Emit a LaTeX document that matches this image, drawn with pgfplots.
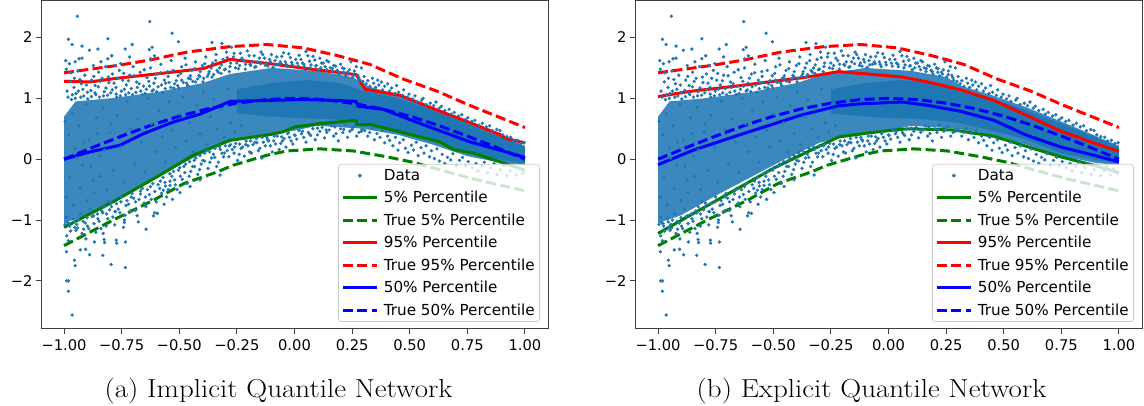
\documentclass[border=0pt]{standalone}
\usepackage{pgfplots}
\pgfplotsset{compat=1.18}
\usepackage{pgfplotstable}
\usepackage{fontspec}
\setmainfont{DejaVu Sans}
\newfontfamily\capfont{Latin Modern Roman}
\definecolor{tb}{HTML}{1F77B4}
\definecolor{pgreen}{HTML}{008000}
\pgfplotstableread{
x y
-1 .7
-.95 .95
-.8 1
-.6 1.1
-.4 1.25
-.28 1.4
-.1 1.5
.1 1.45
.25 1.35
.32 1.2
.45 1.05
.6 .85
.75 .62
.9 .38
1 .22
1 -.1
.9 -.06
.75 .05
.6 .24
.45 .4
.3 .5
.1 .55
0 .47
-.15 .4
-.3 .27
-.45 0
-.6 -.3
-.75 -.6
-.9 -.92
-1 -1.05
}\bandouter
\pgfplotstableread{
x y
-.25 1.15
-.1 1.25
.05 1.3
.2 1.25
.3 1.12
.45 1
.6 .8
.75 .58
.9 .36
1 .2
1 -.08
.9 -.01
.75 .1
.6 .32
.45 .47
.3 .6
.15 .66
0 .68
-.1 .7
-.25 .75
}\bandinner
\pgfplotstableread{
x y
-.942 2.35
-.628 2.26
-.531 2.07
-.981 1.97
-.81 1.98
-.504 1.93
-.704 1.885
-.735 1.81
-.922 1.86
-.965 1.885
-.89 1.79
-.853 1.81
-.63 1.8
-.618 1.84
-.715 1.68
-.793 1.7
-.81 1.65
-.84 1.6
-.993 1.62
-.952 1.6
-.935 1.65
-.922 1.66
-.977 1.57
-.873 1.54
-.754 1.57
-.779 1.54
-.624 1.65
-.608 1.7
-.358 1.92
-.315 1.9
-.273 1.84
-.965 -2.56
-.981 -2.17
-.981 -2
-.988 -2
-.952 -1.75
-.955 -1.66
-.99 -1.52
-.93 -1.49
-.906 -1.48
-.889 -1.57
-.832 -1.58
-.796 -1.73
-.734 -1.78
-.734 -1.36
-.773 -1.33
-.772 -1.38
-.826 -1.32
-.824 -1.37
-.868 -1.36
-.905 -1.31
-.948 -1.17
-.988 -1.26
-.981 -1.34
-.83 -1.22
-.644 -1.15
-.678 -1.03
-.738 -1.04
-.738 -1
-.779 -.86
-.612 -.93
-.595 -.89
-.529 -.66
-.566 -.74
-.497 -.55
-.453 -.45
-.41 -.34
-.323 -.26
-.569 -.51
-.54 -.43
-.99 1.48
-.97 1.42
-.955 1.33
-.94 1.45
-.925 1.24
-.91 1.38
-.88 1.3
-.865 1.21
-.85 1.43
-.835 1.33
-.82 1.52
-.805 1.26
-.79 1.4
-.775 1.18
-.76 1.46
-.745 1.3
-.73 1.22
-.715 1.38
-.7 1.52
-.685 1.27
-.67 1.43
-.655 1.2
-.64 1.34
-.625 1.5
-.61 1.25
-.595 1.4
-.58 1.56
-.565 1.3
-.55 1.44
-.535 1.62
-.52 1.24
-.505 1.37
-.49 1.52
-.475 1.66
-.46 1.33
-.445 1.46
-.43 1.6
-.415 1.38
-.4 1.54
-.385 1.68
-.37 1.44
-.355 1.58
-.34 1.72
-.325 1.5
-.31 1.64
-.295 1.76
-.28 1.52
-.265 1.68
-.25 1.58
-.235 1.74
-.22 1.62
-.205 1.78
-.19 1.54
-.175 1.7
-.16 1.6
-.145 1.76
-.13 1.66
-.115 1.53
-.1 1.72
-.085 1.62
-.07 1.56
-.055 1.69
-.04 1.6
-.025 1.73
-.01 1.55
.005 1.64
.02 1.71
.035 1.58
.05 1.77
.065 1.61
.08 1.69
.095 1.54
.11 1.66
.125 1.58
.14 1.62
.155 1.5
.17 1.54
.185 1.46
.2 1.56
.215 1.49
.23 1.43
.245 1.6
.26 1.45
.275 1.38
.29 1.5
.302 1.36
.311 1.24
.318 1.29
.327 1.2
.338 1.33
.344 1.25
.352 1.18
.361 1.3
.366 1.22
.377 1.27
.383 1.14
.391 1.2
.404 1.24
.412 1.12
.421 1.17
.436 1.08
.443 1.21
.452 1.1
.468 1.05
.474 1.14
.489 1.02
.497 1.07
.512 .99
.523 1.04
.531 .95
.552 .97
.558 1
.571 .9
.589 .92
.603 .88
.614 .94
.628 .84
.637 .87
.652 .8
.671 .82
.68 .74
.693 .77
.712 .71
.726 .73
.741 .65
.752 .68
.769 .62
.783 .64
.801 .56
.815 .59
.832 .53
.847 .55
.859 .47
.878 .49
.892 .47
.904 .4
.921 .37
.938 .36
.951 .3
.967 .31
.983 .26
.996 .27
-.99 -.95
-.975 -1.1
-.96 -.98
-.945 -1.07
-.93 -.9
-.915 -1.15
-.9 -.96
-.885 -.82
-.87 -1.06
-.855 -.9
-.84 -1.14
-.825 -.78
-.81 -.98
-.795 -.72
-.78 -1.08
-.765 -.82
-.75 -.62
-.735 -.92
-.72 -.74
-.705 -.56
-.69 -.84
-.675 -.66
-.66 -.48
-.645 -.78
-.63 -.58
-.615 -.4
-.6 -.7
-.585 -.48
-.57 -.3
-.555 -.62
-.54 -.36
-.525 -.2
-.51 -.5
-.495 -.28
-.48 -.12
-.465 -.4
-.45 -.2
-.435 -.02
-.42 -.25
-.405 -.08
-.39 .1
-.375 -.15
-.36 .02
-.345 .18
-.33 -.05
-.315 .1
-.3 .22
-.285 .04
-.27 .16
-.255 .26
-.24 .08
-.225 .2
-.21 .3
-.195 .12
-.18 .24
-.165 .34
-.15 .18
-.135 .28
-.12 .36
-.105 .22
-.09 .3
-.075 .38
-.06 .26
-.045 .34
-.03 .42
-.015 .3
0 .4
.02 .47
.04 .36
.06 .44
.08 .5
.1 .4
.12 .52
.14 .44
.16 .55
.18 .42
.2 .5
.22 .56
.24 .46
.26 .54
.28 .44
.305 .47
.318 .38
.326 .44
.339 .51
.347 .32
.358 .42
.371 .36
.382 .47
.391 .27
.404 .38
.413 .31
.427 .22
.438 .36
.449 .15
.456 .27
.472 .32
.481 .18
.493 .11
.507 .23
.516 .15
.528 .28
.537 .06
.549 .19
.562 .1
.571 .22
.586 .04
.594 .14
.607 .01
.618 .17
.629 -.03
.641 .08
.652 -.07
.664 .03
.678 -.01
.687 .09
.703 -.1
.716 -.02
.729 .03
.742 -.11
.754 -.04
.771 -.14
.788 -.07
.796 -.19
.813 -.11
.824 -.05
.838 -.22
.852 -.14
.866 -.07
.879 -.25
.893 -.17
.907 -.1
.921 -.27
.936 -.19
.948 -.12
.962 -.26
.977 -.16
.991 -.23
-.987 1.12
-.973 1.27
-.968 .98
-.957 1.18
-.948 1.08
-.931 1.31
-.927 1.02
-.918 1.15
-.903 1.22
-.897 .99
-.884 1.13
-.871 1.36
-.862 1.06
-.851 1.19
-.843 1.28
-.829 1.04
-.818 1.17
-.808 1.35
-.797 1.09
-.783 1.25
-.771 1.02
-.767 1.33
-.752 1.12
-.741 1.41
-.733 1.06
-.721 1.29
-.708 1.16
-.696 1.37
-.688 1.1
-.674 1.24
-.661 1.06
-.652 1.47
-.643 1.15
-.632 1.28
-.618 1.12
-.604 1.33
-.592 1.19
-.581 1.42
-.571 1.1
-.559 1.25
-.548 1.36
-.537 1.18
-.526 1.46
-.513 1.29
-.502 1.17
-.494 1.41
-.482 1.26
-.471 1.55
-.463 1.21
-.452 1.37
-.441 1.28
-.433 1.49
-.42 1.32
-.409 1.44
-.397 1.27
-.389 1.57
-.378 1.36
-.362 1.5
-.351 1.39
-.342 1.62
-.331 1.43
-.318 1.55
-.304 1.47
-.292 1.67
-.277 1.58
-.262 1.74
-.243 1.49
-.228 1.66
-.212 1.56
-.197 1.7
-.183 1.6
-.168 1.52
-.152 1.66
-.138 1.72
-.122 1.58
-.108 1.64
-.093 1.51
-.077 1.68
-.062 1.6
-.047 1.75
-.032 1.52
-.018 1.67
.012 1.58
.028 1.64
.043 1.52
.058 1.7
.072 1.55
.088 1.63
.103 1.47
.118 1.58
.133 1.52
.148 1.6
.163 1.44
.178 1.53
.193 1.4
.208 1.5
.222 1.37
.238 1.47
.253 1.35
.268 1.52
.283 1.3
-.985 -1.04
-.972 -1.18
-.956 -1.03
-.941 -1.13
-.922 -1.22
-.908 -1.05
-.893 -1.14
-.878 -.94
-.862 -1.2
-.848 -1.02
-.832 -.88
-.817 -1.1
-.802 -.83
-.788 -.95
-.772 -.73
-.758 -.88
-.742 -1.12
-.727 -.68
-.712 -.85
-.698 -.64
-.683 -.93
-.668 -.57
-.653 -.72
-.638 -.5
-.622 -.66
-.607 -.88
-.592 -.42
-.577 -.56
-.562 -.38
-.548 -.5
-.532 -.28
-.517 -.42
-.503 -.18
-.487 -.33
-.472 -.08
-.457 -.28
-.442 -.12
-.428 .02
-.412 -.17
-.398 -.02
-.382 .14
-.367 -.05
-.352 .08
-.338 -.12
-.322 .16
-.308 .04
-.292 .14
-.278 .24
-.262 .1
-.247 -.02
-.232 .18
-.218 .05
-.202 .22
-.187 .1
-.172 .28
-.157 .14
-.142 .02
-.127 .22
-.112 .3
-.097 .12
-.082 .25
-.067 .16
-.052 .3
-.037 .2
-.022 .36
-.007 .25
.01 .33
.03 .42
.05 .28
.07 .39
.09 .32
.11 .46
.13 .35
.15 .48
.17 .38
.19 .3
.21 .44
.23 .36
.25 .49
.27 .38
.29 .46
-.983 1.02
-.964 1.06
-.951 1
-.938 1.12
-.914 1.04
-.899 1.1
-.881 1.03
-.866 1.09
-.846 1.02
-.826 1.11
-.811 1.05
-.791 1.14
-.774 1.07
-.756 1.04
-.738 1.15
-.719 1.09
-.703 1.06
-.682 1.18
-.667 1.12
-.648 1.08
-.629 1.2
-.613 1.14
-.598 1.11
-.577 1.22
-.561 1.16
-.544 1.26
-.523 1.17
-.507 1.21
-.489 1.3
-.468 1.25
-.451 1.32
-.429 1.27
-.411 1.36
-.394 1.33
-.373 1.4
-.358 1.35
-.336 1.46
-.319 1.41
-.3 1.48
-.283 1.44
-.256 1.5
-.238 1.54
-.214 1.48
-.193 1.56
-.172 1.51
-.147 1.57
-.126 1.54
-.104 1.6
-.081 1.55
-.058 1.57
-.036 1.56
-.012 1.59
.016 1.53
.041 1.56
.067 1.5
.092 1.53
.114 1.5
.139 1.47
.164 1.49
.189 1.44
.214 1.43
.234 1.4
.259 1.39
.279 1.34
.297 1.28
-.996 -1.07
-.978 -1.06
-.953 -1.12
-.938 -1
-.917 -1.02
-.898 -1.1
-.872 -.93
-.853 -.98
-.836 -.85
-.815 -.9
-.794 -.78
-.777 -.86
-.753 -.7
-.731 -.76
-.709 -.62
-.69 -.7
-.668 -.52
-.647 -.62
-.625 -.45
-.606 -.53
-.582 -.36
-.56 -.44
-.541 -.24
-.52 -.34
-.498 -.14
-.476 -.22
-.455 -.04
-.434 -.12
-.41 .06
-.39 -.03
-.368 .12
-.346 .03
-.325 .2
-.304 .1
-.283 .22
-.26 .2
-.238 .25
-.212 .24
-.19 .3
-.163 .27
-.14 .36
-.116 .32
-.088 .38
-.056 .37
-.026 .44
.003 .39
.035 .46
.066 .41
.1 .51
.137 .48
.175 .53
.214 .49
.252 .52
.293 .49
-.995 .62
-.98 .4
-.965 .75
-.95 .18
-.935 .55
-.92 -.1
-.905 .9
-.89 .32
-.875 -.35
-.86 .68
-.845 .05
-.83 .85
-.815 -.5
-.8 .44
-.785 -.18
-.77 .72
-.755 .2
-.74 -.38
-.725 .95
-.71 .5
-.695 -.08
-.68 .66
-.665 .28
-.65 -.22
-.635 1
-.62 .58
-.605 .12
-.59 .8
-.575 .36
-.56 -.05
-.545 .94
-.53 .48
-.515 .2
-.5 .74
-.485 1.02
-.47 .3
-.455 .6
-.44 .12
-.425 .88
-.41 .42
-.395 1.1
-.38 .24
-.365 .7
-.35 .98
-.335 .5
-.32 .82
-.305 .36
-.29 1.15
-.275 .6
-.26 .45
-.245 .9
-.23 .55
-.99 -.62
-.975 -.3
-.96 -.75
-.945 .02
-.93 -.48
-.915 .28
-.9 -.68
-.885 -.12
-.87 -.55
-.855 .42
-.84 -.28
-.825 .15
-.81 -.7
-.795 .58
}\scat
\pgfplotsset{
  panel/.style={
    scale only axis,width=507pt,height=328pt,
    xmin=-1.1,xmax=1.1,ymin=-2.79,ymax=2.6,
    xtick={-1,-.75,-.5,-.25,0,.25,.5,.75,1},
    xticklabels={−1.00,−0.75,−0.50,−0.25,0.00,0.25,0.50,0.75,1.00},
    ytick={-2,-1,0,1,2},
    yticklabels={−2,−1,0,1,2},
    tick label style={font=\fontsize{14.7}{17}\selectfont},
    axis line style={black!75,line width=1pt},
    tick style={black!75,line width=1pt},
    tick align=outside,major tick length=5pt,
    xtick pos=bottom,ytick pos=left,
    x tick label style={yshift=-2pt},
    clip=true,
    legend cell align=left,
    legend style={at={(1,0)},anchor=south east,xshift=-8pt,yshift=7pt,
      font=\fontsize{15.2}{17}\selectfont,
      draw=black!20,line width=.8pt,rounded corners=3pt,
      fill=white,fill opacity=.8,draw opacity=1,text opacity=1,
      row sep=5.4pt,inner xsep=3pt,inner ysep=3pt},
    legend image code/.code={\draw[##1,line width=3pt] (0pt,0pt) -- (34pt,0pt);\path[draw=none] (0pt,0pt) -- (39pt,0pt);},
  },
  sol/.style={line width=3pt,line join=round,no marks},
  das/.style={line width=3pt,no marks,dash pattern=on 10pt off 4.4pt},
}
\newcommand{\scatterlayers}{%
  \addplot[fill=tb,draw=none,fill opacity=.88,forget plot] table {\bandouter} -- cycle;
  \addplot[fill=tb,draw=none,forget plot] table {\bandinner} -- cycle;
  \addplot[only marks,mark=*,mark size=1.5pt,color=tb,mark options={draw=none,fill=tb},
    legend image code/.code={\fill[tb] (17pt,0pt) circle (1.5pt);\path[draw=none,fill=none] (0pt,0pt) -- (39pt,0pt);}] table {\scat};
}
\newcommand{\truegreen}{%
  \addplot[das,color=pgreen] coordinates {(-1,-1.42) (-.787,-1) (-.61,-.67) (-.48,-.4) (-.336,-.21) (-.267,-.1) (-.12,.065) (-.033,.136) (.11,.17) (.255,.136) (.4,.04) (.514,-.05) (.76,-.31) (1,-.52)};
}
\newcommand{\truered}{%
  \addplot[das,color=red] coordinates {(-1,1.42) (-.77,1.54) (-.627,1.63) (-.467,1.76) (-.28,1.85) (-.12,1.885) (.037,1.83) (.184,1.705) (.327,1.557) (.47,1.32) (.617,1.12) (.76,.885) (.904,.667) (1,.52)};
}
\newcommand{\trueblue}{%
  \addplot[das,color=blue] coordinates {(-1,0) (-.875,.195) (-.75,.38) (-.625,.555) (-.5,.707) (-.375,.83) (-.25,.92) (-.125,.98) (0,1) (.125,.98) (.25,.92) (.375,.83) (.5,.707) (.625,.555) (.75,.38) (.875,.195) (1,0)};
}
\begin{document}
\begin{tikzpicture}[x=1pt,y=1pt]
\path[use as bounding box] (0,0) rectangle (1144,406);
\begin{axis}[panel,at={(41pt,77pt)},anchor=south west]
\scatterlayers
\addplot[sol,color=pgreen] coordinates {(-1,-1.12) (-.787,-.7) (-.583,-.26) (-.44,.065) (-.28,.31) (-.106,.405) (-.05,.45) (.002,.53) (.11,.585) (.267,.64) (.27,.57) (.33,.57) (.47,.437) (.63,.284) (.69,.16) (.775,.1) (.892,-.044) (1,-.18)};
\truegreen
\addplot[sol,color=red] coordinates {(-1,1.28) (-.887,1.27) (-.77,1.33) (-.627,1.39) (-.51,1.44) (-.396,1.49) (-.28,1.64) (-.106,1.57) (.037,1.497) (.267,1.39) (.306,1.15) (.458,1.05) (.617,.81) (.762,.6) (.892,.405) (.92,.34) (1,.267)};
\truered
\addplot[sol,color=blue] coordinates {(-1,0) (-.887,.12) (-.757,.23) (-.655,.42) (-.527,.61) (-.41,.74) (-.28,.95) (-.106,.967) (.037,.98) (.18,.967) (.267,.95) (.276,.87) (.385,.82) (.5,.65) (.645,.447) (.762,.284) (.892,.148) (1,.028)};
\trueblue
\legend{Data,5\% Percentile,True 5\% Percentile,95\% Percentile,True 95\% Percentile,50\% Percentile,True 50\% Percentile}
\end{axis}
\begin{axis}[panel,at={(635pt,77pt)},anchor=south west]
\scatterlayers
\addplot[sol,color=pgreen] coordinates {(-1,-1.22) (-.743,-.67) (-.5,-.15) (-.217,.365) (-.09,.43) (.05,.49) (.096,.5) (.283,.48) (.457,.377) (.63,.175) (.748,.038) (.89,-.098) (1,-.22)};
\truegreen
\addplot[sol,color=red] coordinates {(-1,1.03) (-.86,1.115) (-.643,1.21) (-.5,1.28) (-.37,1.34) (-.217,1.44) (-.09,1.4) (.06,1.35) (.17,1.27) (.313,1.14) (.457,.967) (.6,.72) (.748,.46) (.89,.267) (1,.13)};
\truered
\addplot[sol,color=blue] coordinates {(-1,-.09) (-.848,.147) (-.63,.42) (-.383,.72) (-.222,.875) (-.122,.91) (.06,.94) (.17,.885) (.313,.787) (.457,.64) (.6,.393) (.748,.2) (.89,.066) (1,-.044)};
\trueblue
\legend{Data,5\% Percentile,True 5\% Percentile,95\% Percentile,True 95\% Percentile,50\% Percentile,True 50\% Percentile}
\end{axis}
\node[font=\capfont\fontsize{26}{30}\selectfont,anchor=base,xscale=1.115] at (278.5,8) {(a) Implicit Quantile Network};
\node[font=\capfont\fontsize{26}{30}\selectfont,anchor=base,xscale=1.115] at (871.5,8) {(b) Explicit Quantile Network};
\end{tikzpicture}
\end{document}
